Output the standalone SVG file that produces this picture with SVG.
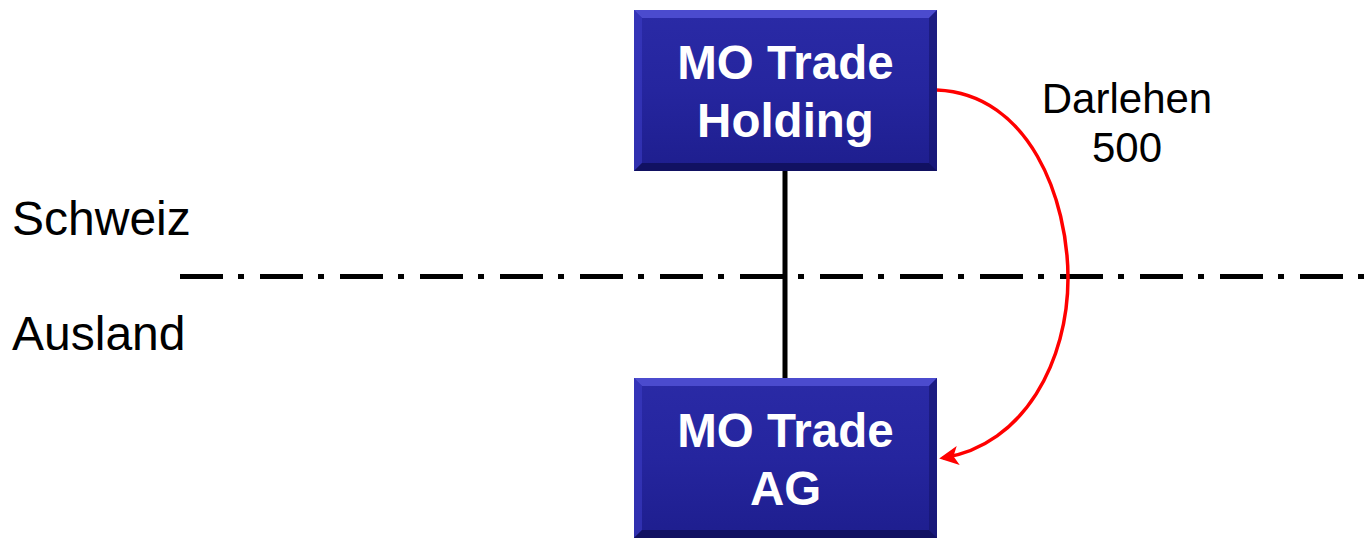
<svg xmlns="http://www.w3.org/2000/svg" width="1367" height="539" viewBox="0 0 1367 539">
  <style>
    .box-face { fill: url(#faceGrad); }
    .bevel-top { fill: #5a5ae0; opacity: 0.7; }
    .bevel-left { fill: #3c3cc4; opacity: 0.6; }
    .bevel-right { fill: #14146a; opacity: 0.6; }
    .bevel-bottom { fill: #0c0c4e; opacity: 0.7; }
    .box-label { font-family: "Liberation Sans", Arial, sans-serif; font-weight: bold; font-size: 47.5px; fill: #ffffff; text-anchor: middle; }
    .plain-label { font-family: "Liberation Sans", Arial, sans-serif; font-size: 48px; fill: #000000; }
    .loan-label { font-family: "Liberation Sans", Arial, sans-serif; font-size: 42px; fill: #000000; text-anchor: middle; }
  </style>
  <defs>
    <linearGradient id="faceGrad" x1="0" y1="0" x2="0" y2="1">
      <stop offset="0" stop-color="#2a2aa6"/>
      <stop offset="0.5" stop-color="#25259e"/>
      <stop offset="1" stop-color="#1e1e8e"/>
    </linearGradient>
    <marker id="redArrow" viewBox="0 0 10 10" refX="8" refY="5" markerWidth="5.5" markerHeight="5.5" orient="auto-start-reverse" markerUnits="strokeWidth">
      <path d="M0,0 L10,5 L0,10 L2.5,5 Z" fill="#ff0000"/>
    </marker>
  </defs>

  <rect width="1367" height="539" fill="#ffffff"/>

  <!-- border line between the two countries -->
  <line x1="180" y1="276.5" x2="1367" y2="276.5" stroke="#000000" stroke-width="5" stroke-dasharray="43 15 6 16"/>

  <text class="plain-label" x="12" y="235">Schweiz</text>
  <text class="plain-label" x="12" y="350">Ausland</text>

  <g id="connectors">
    <line x1="785" y1="170" x2="785" y2="379" stroke="#000000" stroke-width="5"/>
    <path d="M937,90 C1030,94 1068,200 1068,278 C1068,360 1025,445 943,458" fill="none" stroke="#ff0000" stroke-width="3.5" marker-end="url(#redArrow)"/>
    <text class="loan-label" x="1127" y="113">Darlehen</text>
    <text class="loan-label" x="1127" y="162">500</text>
  </g>

  <g id="holding">
    <rect class="box-face" x="634" y="10" width="303" height="161"/>
    <polygon class="bevel-top" points="634,10 937,10 929,18 642,18"/>
    <polygon class="bevel-left" points="634,10 642,18 642,163 634,171"/>
    <polygon class="bevel-right" points="937,10 937,171 929,163 929,18"/>
    <polygon class="bevel-bottom" points="634,171 642,163 929,163 937,171"/>
    <text class="box-label" x="785.5" y="79">MO Trade</text>
    <text class="box-label" x="785.5" y="137">Holding</text>
  </g>

  <g id="ag">
    <rect class="box-face" x="634" y="378" width="303" height="160"/>
    <polygon class="bevel-top" points="634,378 937,378 929,386 642,386"/>
    <polygon class="bevel-left" points="634,378 642,386 642,530 634,538"/>
    <polygon class="bevel-right" points="937,378 937,538 929,530 929,386"/>
    <polygon class="bevel-bottom" points="634,538 642,530 929,530 937,538"/>
    <text class="box-label" x="785.5" y="447">MO Trade</text>
    <text class="box-label" x="785.5" y="505">AG</text>
  </g>
</svg>
